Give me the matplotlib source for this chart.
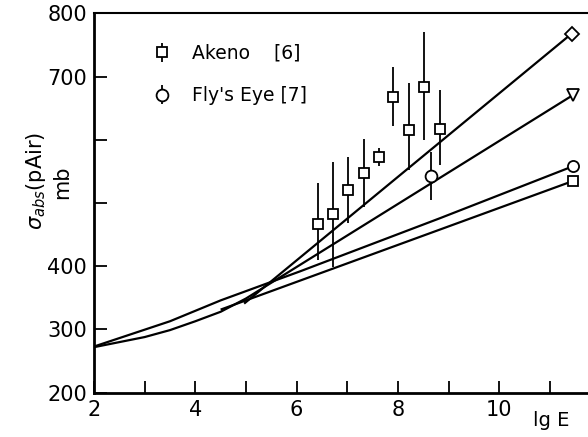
#! /usr/bin/env python

import numpy as np
import matplotlib
matplotlib.use('Agg')
import matplotlib.pyplot as plt

# Akeno points (lg E, sigma, upper and lower end of error bar), mb
akeno_lge = [6.43, 6.72, 7.02, 7.33, 7.63, 7.91, 8.22, 8.52, 8.83]
akeno_sig = [467, 482, 520, 547, 573, 667, 615, 684, 617]
akeno_hi = [531, 565, 572, 601, 587, 715, 690, 770, 679]
akeno_lo = [410, 399, 468, 494, 559, 621, 552, 600, 560]

# Fly's Eye point
fly_lge = [8.65]
fly_sig = [543]
fly_hi = [581]
fly_lo = [505]

# model curves, each ending with its own open marker
curve_circ_lge = [2.0, 3.5, 4.5, 6.07, 8.83, 11.45]
curve_circ_sig = [273, 313, 346, 392, 476, 558]

curve_tri_lge = [2.0, 2.5, 3.0, 3.5, 4.0, 4.5, 5.0, 11.46]
curve_tri_sig = [272, 280, 288, 299, 313, 328, 349, 671]

curve_dia_lge = [4.98, 11.43]
curve_dia_sig = [342, 768]

curve_sq_lge = [4.52, 11.46]
curve_sq_sig = [332, 535]

xticks = [2, 3, 4, 5, 6, 7, 8, 9, 10, 11]
xlabels = ['2', '', '4', '', '6', '', '8', '', '10', '']
yticks = [200, 300, 400, 500, 600, 700, 800]
ylabels = ['200', '300', '400', '', '', '700', '800']

matplotlib.rcParams['font.family'] = 'DejaVu Sans'

fig = plt.figure(figsize=(5.88, 4.37), dpi=100)
ax = fig.add_axes([94/588, 44.3/437, 494/588, 379.4/437])

lw = 1.6
mk = dict(markerfacecolor='white', markeredgecolor='k', markeredgewidth=1.3, markevery=[-1])

ax.plot(curve_dia_lge, curve_dia_sig, 'k-', lw=lw, marker='D', markersize=7.5, **mk)
ax.plot(curve_tri_lge, curve_tri_sig, 'k-', lw=lw, marker='v', markersize=8.5, **mk)
ax.plot(curve_circ_lge, curve_circ_sig, 'k-', lw=lw, marker='o', markersize=8, **mk)
ax.plot(curve_sq_lge, curve_sq_sig, 'k-', lw=lw, marker='s', markersize=7, **mk)

ak_err = [np.array(akeno_sig) - np.array(akeno_lo), np.array(akeno_hi) - np.array(akeno_sig)]
fl_err = [np.array(fly_sig) - np.array(fly_lo), np.array(fly_hi) - np.array(fly_sig)]

ax.errorbar(akeno_lge, akeno_sig, yerr=ak_err, fmt='s', color='k', ecolor='k',
            elinewidth=1.3, capsize=0, markersize=7.2, markerfacecolor='white',
            markeredgewidth=1.3, label='Akeno    [6]')
ax.errorbar(fly_lge, fly_sig, yerr=fl_err, fmt='o', color='k', ecolor='k',
            elinewidth=1.3, capsize=0, markersize=8.5, markerfacecolor='white',
            markeredgewidth=1.3, label="Fly's Eye [7]")

ax.set_xlim(2, 11.75)
ax.set_ylim(200, 800)

ax.set_xticks(xticks)
ax.set_xticklabels(xlabels)
ax.set_yticks(yticks)
ax.set_yticklabels(ylabels)
ax.tick_params(direction='in', length=9, width=1.3, labelsize=15, pad=5)

ax.spines['right'].set_visible(False)
ax.spines['left'].set_linewidth(2)
ax.spines['bottom'].set_linewidth(2)
ax.spines['top'].set_linewidth(1.5)

ax.legend(loc='upper left', bbox_to_anchor=(0.085, 0.964), frameon=False,
          fontsize=13.5, labelspacing=1.25, handlelength=1.0, handletextpad=1.1)

# y label in two parts, rotated
fig.text(36/588, 1 - 181/437, r'$\sigma_{abs}$(pAir)', rotation=90,
         ha='center', va='center', fontsize=15)
fig.text(62/588, 1 - 182/437, 'mb', rotation=90, ha='center', va='center', fontsize=15)

# x label at bottom right
fig.text(551/588, 1 - 421/437, 'lg E', ha='center', va='center', fontsize=14)

fig.savefig('out.png', dpi=100)
